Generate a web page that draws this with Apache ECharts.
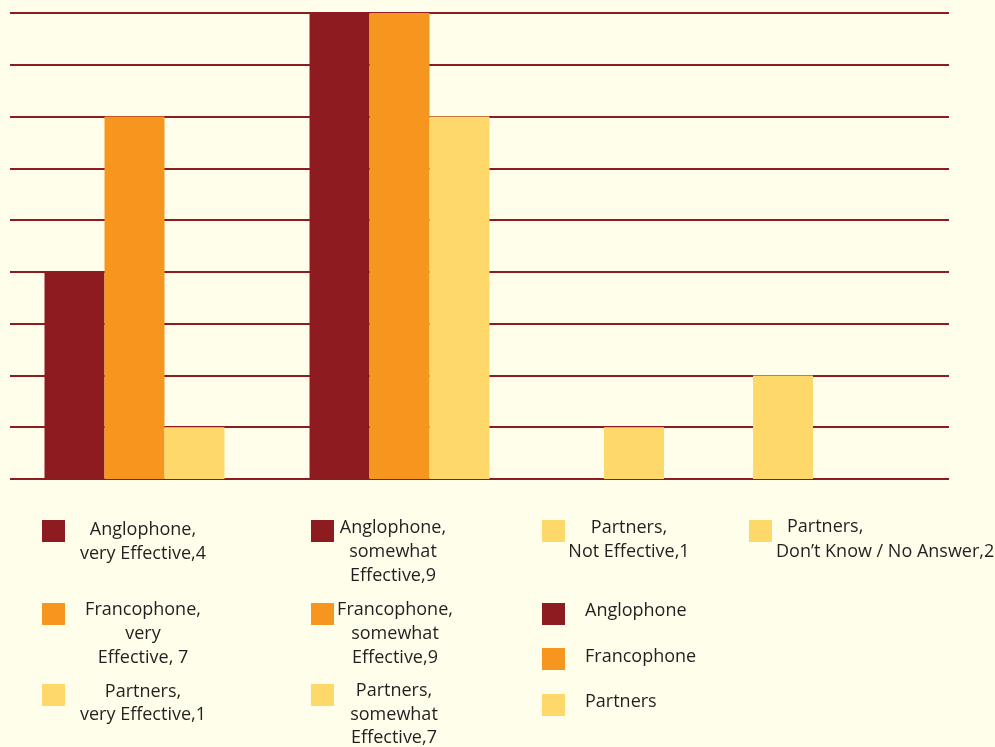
<!DOCTYPE html>
<html><head><meta charset="utf-8">
<script src="https://cdn.jsdelivr.net/npm/echarts@6/dist/echarts.min.js"></script>
<style>html,body{margin:0;padding:0;background:#FFFEEB;}#c{width:995px;height:747px;}</style>
</head><body><div id="c"></div>
<script>
// ---- data ----
const categories = ['very Effective', 'somewhat Effective', 'Not Effective', 'Don\u2019t Know / No Answer'];
const seriesNames = ['Anglophone', 'Francophone', 'Partners'];
const anglophone = [4, 9, 0, 0];
const francophone = [7, 9, 0, 0];
const partners = [1, 7, 1, 2];
const yMin = 0, yMax = 9, yStep = 1;

// ---- style ----
const COLORS = { Anglophone: '#8E1B1F', Francophone: '#F7961F', Partners: '#FED86A' };
const BG = '#FFFEEB';
const FONT = '18px "Open Sans", sans-serif';
const TEXT = '#231F20';

// legend entries (labels as shown in the original legend)
const legendEntries = [
  { s: 'Anglophone', sq: [42, 520], align: 'center', x: 143, lines: [['Anglophone,', 530], ['very Effective,4', 554]] },
  { s: 'Francophone', sq: [42, 603], align: 'center', x: 143, lines: [['Francophone,', 610], ['very', 634], ['Effective, 7', 658]] },
  { s: 'Partners', sq: [42, 684], align: 'center', x: 143, lines: [['Partners,', 692], ['very Effective,1', 715]] },
  { s: 'Anglophone', sq: [311, 520], align: 'center', x: 393, lines: [['Anglophone,', 528], ['somewhat', 552], ['Effective,9', 576]] },
  { s: 'Francophone', sq: [311, 603], align: 'center', x: 395, lines: [['Francophone,', 610], ['somewhat', 634], ['Effective,9', 658]] },
  { s: 'Partners', sq: [311, 684], align: 'center', x: 394, lines: [['Partners,', 691], ['somewhat', 715], ['Effective,7', 738]] },
  { s: 'Partners', sq: [542, 520], align: 'center', x: 629, lines: [['Partners,', 528], ['Not Effective,1', 552]] },
  { s: 'Anglophone', sq: [542, 603], align: 'left', x: 585, lines: [['Anglophone', 611]] },
  { s: 'Francophone', sq: [542, 648], align: 'left', x: 585, lines: [['Francophone', 657]] },
  { s: 'Partners', sq: [542, 694], align: 'left', x: 585, lines: [['Partners', 702]] },
  { s: 'Partners', sq: [749, 520], align: 'left', x: 787, lines: [['Partners,', 527]] },
  { s: 'Partners', sq: [749, 520], align: 'left', x: 776, lines: [['Don\u2019t Know / No Answer,2', 552]] }
];

const graphics = [];
legendEntries.forEach(e => {
  graphics.push({ type: 'rect', shape: { x: e.sq[0], y: e.sq[1], width: 23, height: 22 }, style: { fill: COLORS[e.s] } });
  e.lines.forEach(l => {
    graphics.push({ type: 'text', x: e.x, y: l[1], style: { text: l[0], font: FONT, fill: TEXT, align: e.align, verticalAlign: 'middle', textAlign: e.align, textVerticalAlign: 'middle' } });
  });
});

const catA = categories.slice(0, 2), catB = categories.slice(2);
const hiddenY = (gi) => ({ type: 'value', gridIndex: gi, min: yMin, max: yMax, interval: yStep, show: false });
const bar = (name, data, axis) => ({
  name, type: 'bar', data, xAxisIndex: axis, yAxisIndex: axis,
  barWidth: 60, barGap: '0%', itemStyle: { color: COLORS[name] }
});

const chart = echarts.init(document.getElementById('c'));
chart.setOption({
  backgroundColor: BG,
  animation: false,
  grid: [
    { left: 10, right: 46, top: 13, bottom: 268 },
    { left: 2, width: 530, top: 13, bottom: 268 },
    { left: 559.5, width: 298, top: 13, bottom: 268 }
  ],
  xAxis: [
    { type: 'category', gridIndex: 0, data: categories, show: false },
    { type: 'category', gridIndex: 1, data: catA, show: false },
    { type: 'category', gridIndex: 2, data: catB, show: false }
  ],
  yAxis: [
    { type: 'value', gridIndex: 0, min: yMin, max: yMax, interval: yStep,
      axisLabel: { show: false }, axisLine: { show: false }, axisTick: { show: false },
      splitLine: { show: true, lineStyle: { color: '#8E1B1F', width: 2 } } },
    hiddenY(1), hiddenY(2)
  ],
  series: [
    bar('Anglophone', anglophone.slice(0, 2), 1),
    bar('Francophone', francophone.slice(0, 2), 1),
    bar('Partners', partners.slice(0, 2), 1),
    bar('Partners', partners.slice(2), 2)
  ],
  graphic: graphics
});
</script></body></html>
